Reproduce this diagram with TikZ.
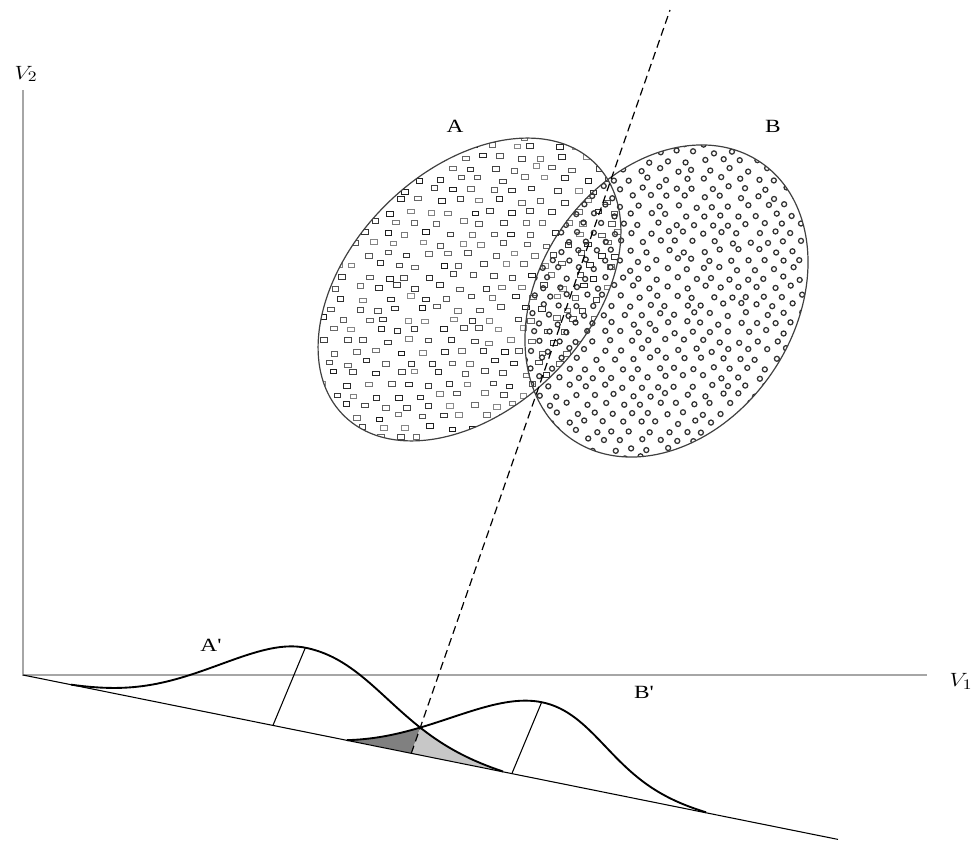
\documentclass[tikz,border=0pt]{standalone}
\usepackage{fontspec}
\newfontfamily\lbl{Liberation Serif}
\usetikzlibrary{calc,intersections}
\begin{document}
\begin{tikzpicture}[x=0.75pt,y=-0.75pt,
  declare function={
    sA(\t)=((\t<250)?72:96);
    eA(\t)=((\t<250)?0.0195:0.0567);
    sB(\t)=((\t<489)?78:76);
    eB(\t)=((\t<489)?0.1067:0.0385);
    hA(\t)=84*max(0,(exp(-0.5*((\t-250)/sA(\t))*((\t-250)/sA(\t)))-eA(\t))/(1-eA(\t)));
    hB(\t)=77*max(0,(exp(-0.5*((\t-489)/sB(\t))*((\t-489)/sB(\t)))-eB(\t))/(1-eB(\t)));
  },
  axis/.style={draw=black!35,line width=1.5pt},
  baseln/.style={draw=black,line width=0.8pt},
  bell/.style={draw=black,line width=1.4pt,line join=round},
  marker/.style={draw=black,line width=0.8pt},
  proj/.style={draw=black,line width=0.9pt,dash pattern=on 6pt off 3.5pt},
  oval/.style={draw=black!75,line width=0.9pt},
  sq/.style={line width=0.6pt},
  dot/.style={line width=0.95pt,draw=black!80},
  lab/.style={font=\lbl\fontsize{14}{17}\selectfont, inner sep=0pt},
  vlab/.style={font=\fontsize{15}{18}\selectfont, inner sep=0pt},
]
\useasboundingbox (0,0) rectangle (977,841);

% axes
\coordinate (O) at (23,675);
\coordinate (V2top) at (23,90);
\coordinate (V1end) at (927,675);
\coordinate (E) at (838,839.4);
\draw[axis] (V2top) -- (O) -- (V1end);

% ellipse A with squares
\coordinate (ca) at (469.5,289.5);
\begin{scope}
  \clip[rotate around={45:(ca)}] (ca) ellipse [x radius=178, y radius=119];
  \pgfmathsetseed{7}
  \foreach \r in {0,...,28}{
    \foreach \c in {0,...,15}{
      \pgfmathsetmacro{\px}{314+\c*21+mod(\r,2)*10.5+5*rand}
      \pgfmathsetmacro{\py}{136+\r*10.8+2.5*rand}
      \pgfmathtruncatemacro{\sh}{45+45*rnd}
      \draw[sq,black!\sh] (\px-3.3,\py-2.3) rectangle (\px+3.3,\py+2.3);
    }
  }
\end{scope}

% ellipse B with circles
\coordinate (cb) at (666.5,301);
\begin{scope}
  \clip[rotate around={55.7:(cb)}] (cb) ellipse [x radius=167.6, y radius=127.6];
  \pgfmathsetseed{11}
  \foreach \r in {0,...,35}{
    \foreach \c in {0,...,16}{
      \pgfmathsetmacro{\px}{523+\c*18+mod(\r,2)*9+3*rand}
      \pgfmathsetmacro{\py}{143+\r*9+2*rand}
      \draw[dot] (\px,\py) circle [radius=2.5];
    }
  }
\end{scope}
\draw[oval,rotate around={45:(ca)}] (ca) ellipse [x radius=178, y radius=119];
\draw[oval,rotate around={55.7:(cb)}] (cb) ellipse [x radius=167.6, y radius=127.6];

% projected densities (invisible, for intersections)
\path[name path=cA] plot[domain=48:480,samples=160] ({23+\x+0.385*hA(\x)},{675+0.201*\x-0.923*hA(\x)});
\path[name path=cB] plot[domain=324:683,samples=160] ({23+\x+0.385*hB(\x)},{675+0.201*\x-0.923*hB(\x)});
\path[name intersections={of=cA and cB,by={X}}];
\coordinate (T) at (670,10);
\coordinate (F) at (intersection of T--X and O--E);
\coordinate (F2) at ($(T)!1.3!(F)$);

% shaded overlap
\begin{scope}
  \clip (T) -- (F2) -- (0,1000) -- (-100,-100) -- cycle;
  \fill[black!50] plot[domain=324:683,samples=160] ({23+\x+0.385*hB(\x)},{675+0.201*\x-0.923*hB(\x)}) -- (706,812.28) -- (347,740.12) -- cycle;
\end{scope}
\begin{scope}
  \clip (T) -- (F2) -- (1100,1000) -- (1100,-100) -- cycle;
  \fill[black!22] plot[domain=48:480,samples=160] ({23+\x+0.385*hA(\x)},{675+0.201*\x-0.923*hA(\x)}) -- (503,771.48) -- (71,684.65) -- cycle;
\end{scope}

% base line
\draw[baseln] (O) -- (E);

% curves
\draw[bell] plot[domain=48:480,samples=160] ({23+\x+0.385*hA(\x)},{675+0.201*\x-0.923*hA(\x)});
\draw[bell] plot[domain=324:683,samples=160] ({23+\x+0.385*hB(\x)},{675+0.201*\x-0.923*hB(\x)});

% markers
\coordinate (ma0) at (273,725.25);
\coordinate (ma1) at (305.34,647.72);
\coordinate (mb0) at (512,773.29);
\coordinate (mb1) at (541.65,702.22);
\draw[marker] (ma0) -- (ma1);
\draw[marker] (mb0) -- (mb1);

% projection direction
\draw[proj] (F) -- (T);

% labels
\node[lab] (lA) at (455,126) {\scalebox{1.25}[1]{A}};
\node[lab] (lB) at (773,126) {\scalebox{1.25}[1]{B}};
\node[lab] (lAp) at (211,645) {\scalebox{1.25}[1]{A'}};
\node[lab] (lBp) at (644,692) {\scalebox{1.25}[1]{B'}};
\node[vlab] (lV2) at (26,74) {\scalebox{1.2}[1]{$V_2$}};
\node[vlab] (lV1) at (961,681) {\scalebox{1.2}[1]{$V_1$}};
\end{tikzpicture}
\end{document}
